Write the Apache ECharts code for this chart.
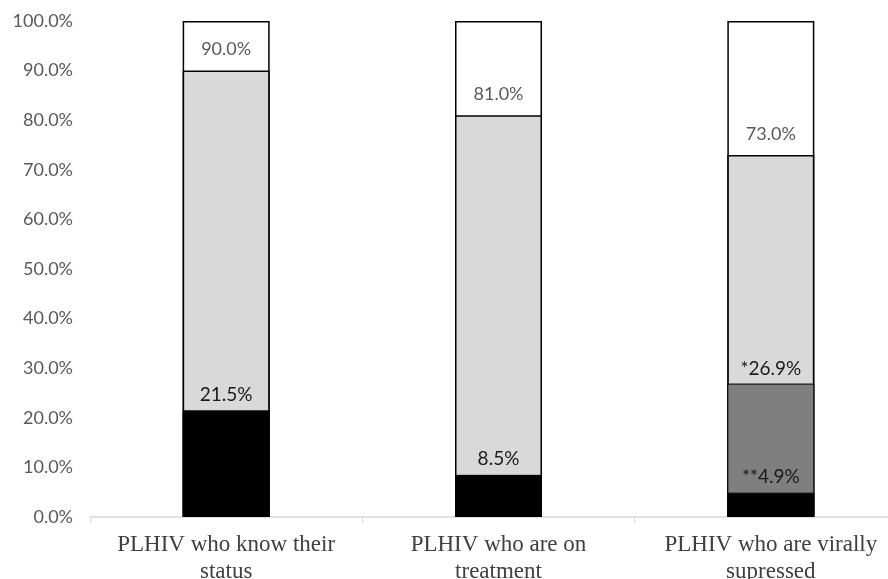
<!DOCTYPE html>
<html>
<head>
<meta charset="utf-8">
<script src="https://cdn.jsdelivr.net/npm/echarts@6/dist/echarts.min.js"></script>
<style>
  html, body { margin: 0; padding: 0; background: #fff; }
  #chart { width: 888px; height: 579px; }
</style>
</head>
<body>
<div id="chart"></div>
<script>
// Cascade stages
const categories = [
  'PLHIV who know their\nstatus',
  'PLHIV who are on\ntreatment',
  'PLHIV who are virally\nsupressed'
];
// Full scale of each column (100%)
const fullScale = [100, 100, 100];
// Targets for each stage
const targets = [90.0, 81.0, 73.0];
// Estimated value (third stage only)
const estimated = [null, null, 26.9];
// Achieved values
const achieved = [21.5, 8.5, 4.9];
// Labels on achieved bars
const achievedLabels = ['21.5%', '8.5%', '**4.9%'];
const estimatedLabels = [null, null, '*26.9%'];
const yTicks = [0, 10, 20, 30, 40, 50, 60, 70, 80, 90, 100];

const chart = echarts.init(document.getElementById('chart'));

const labelFont = 'Lato, "Open Sans", sans-serif';

chart.setOption({
  animation: false,
  backgroundColor: '#ffffff',
  grid: {
    left: 90, top: 21, width: 817, height: 496,
    containLabel: false,
    outerBoundsMode: 'none'
  },
  xAxis: {
    type: 'category',
    data: categories,
    axisLine: { lineStyle: { color: '#d9d9d9', width: 1.5 } },
    axisTick: { show: true, interval: 0, alignWithLabel: false, length: 6, lineStyle: { color: '#d9d9d9' } },
    axisLabel: {
      interval: 0,
      hideOverlap: false,
      color: '#404040',
      fontFamily: '"Liberation Serif", "Times New Roman", serif',
      fontSize: 23,
      lineHeight: 27,
      margin: 14
    }
  },
  yAxis: {
    type: 'value',
    min: yTicks[0],
    max: yTicks[yTicks.length - 1],
    interval: 10,
    axisLine: { show: false },
    axisTick: { show: false },
    splitLine: { show: false },
    axisLabel: {
      color: '#595959',
      fontFamily: labelFont,
      fontSize: 18,
      margin: 17,
      formatter: v => v.toFixed(1) + '%'
    }
  },
  series: [
    {
      name: 'Full scale',
      type: 'bar',
      data: fullScale,
      barWidth: 87,
      barGap: '-100%',
      itemStyle: { color: '#ffffff', borderColor: '#000000', borderWidth: 1.5 },
      silent: true
    },
    {
      name: 'Target',
      type: 'bar',
      data: targets,
      barWidth: 87,
      barGap: '-100%',
      itemStyle: { color: '#d9d9d9', borderColor: '#000000', borderWidth: 1.5 },
      label: {
        show: true,
        position: 'top',
        distance: 12,
        color: '#595959',
        fontFamily: labelFont,
        fontSize: 18,
        formatter: p => p.value.toFixed(1) + '%'
      }
    },
    {
      name: 'Estimated',
      type: 'bar',
      data: estimated,
      barWidth: 87,
      barGap: '-100%',
      itemStyle: { color: '#7f7f7f', borderColor: '#000000', borderWidth: 1 },
      label: {
        show: true,
        position: 'top',
        distance: 5,
        color: '#1a1a1a',
        fontFamily: labelFont,
        fontSize: 19,
        formatter: p => estimatedLabels[p.dataIndex] || ''
      }
    },
    {
      name: 'Achieved',
      type: 'bar',
      data: achieved,
      barWidth: 87,
      barGap: '-100%',
      itemStyle: { color: '#000000', borderColor: '#000000', borderWidth: 1 },
      label: {
        show: true,
        position: 'top',
        distance: 6,
        color: '#1a1a1a',
        fontFamily: labelFont,
        fontSize: 19,
        formatter: p => achievedLabels[p.dataIndex]
      }
    }
  ]
});
</script>
</body>
</html>
